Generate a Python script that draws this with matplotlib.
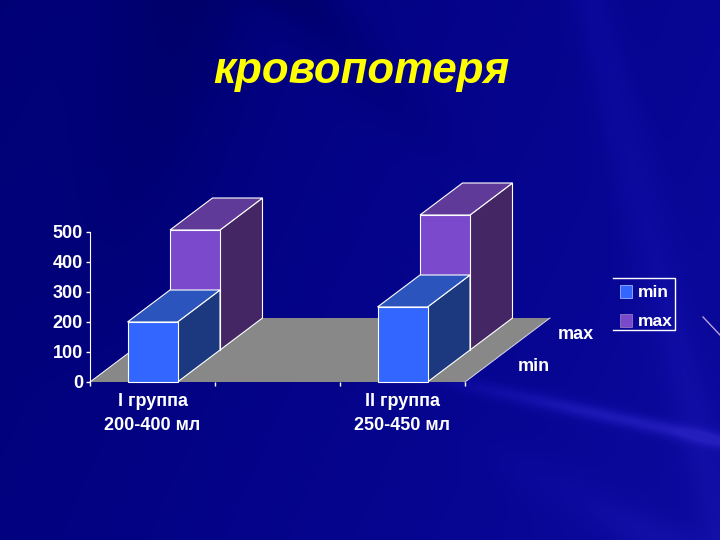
import numpy as np
import matplotlib.pyplot as plt
from matplotlib.patches import Polygon, Patch
from matplotlib.lines import Line2D

plt.rcParams['font.family'] = ['Liberation Sans', 'DejaVu Sans']

categories = ['I группа\n200-400 мл', '', 'II группа\n250-450 мл']
series_names = ['min', 'max']
min_values = [200, 0, 250]
max_values = [400, 0, 450]
y_ticks = [0, 100, 200, 300, 400, 500]

W, H = 720, 540
BAR_W = 0.4
# one depth row in data units (42.5 px across, 32 px up)
DX = 42.5 / 125
DY = 32 / 0.3

MIN_COLS = {'front': '#3366ff', 'top': '#2b55bd', 'side': '#1c397f'}
MAX_COLS = {'front': '#7b49cc', 'top': '#5f3a98', 'side': '#452664'}
FLOOR = '#888888'

fig = plt.figure(figsize=(W / 100, H / 100), dpi=100)

# slide background: navy with a few soft lighter / darker streaks
yy, xx = np.mgrid[0:H, 0:W]
def band(a, b, c, width):
    d = (a * xx + b * yy + c) / np.hypot(a, b)
    return np.exp(-(d / width) ** 2)

glow = 0.30 + 0.30 * xx / W + 0.10 * yy / H
glow += 0.30 * band(0.22, -1, 282, 8) * np.clip((xx - 380) / 200, 0, 1)
glow += 0.12 * band(0.5, -1, 210, 22) * np.clip((xx - 450) / 200, 0, 1)
glow += 0.10 * band(1, -0.25, -590, 22)
glow -= 0.18 * band(1, -0.9, -300, 30) * np.clip(1 - yy / 170, 0, 1)
glow -= 0.18 * band(1, 0.25, -190, 70) * np.clip(1 - yy / 400, 0, 1)
glow = np.clip(glow, 0, 1)
bg = np.dstack([0.14 * glow ** 3, 0.12 * glow ** 3, 0.34 + 0.40 * glow])
bg_ax = fig.add_axes([0, 0, 1, 1])
bg_ax.imshow(bg, aspect='auto', extent=(0, W, H, 0))
bg_ax.axis('off')

ax = fig.add_axes([90 / W, 1 - 382 / H, 375 / W, 150 / H])
ax.patch.set_alpha(0)
ax.set_xlim(0, 3)
ax.set_ylim(0, 500)


def draw_box(row, center, value, cols):
    x0 = center - BAR_W / 2 + row * DX
    x1 = center + BAR_W / 2 + row * DX
    y0 = row * DY
    y1 = y0 + value
    faces = [
        ('side', [(x1, y0), (x1 + DX, y0 + DY), (x1 + DX, y1 + DY), (x1, y1)]),
        ('top', [(x0, y1), (x1, y1), (x1 + DX, y1 + DY), (x0 + DX, y1 + DY)]),
        ('front', [(x0, y0), (x1, y0), (x1, y1), (x0, y1)]),
    ]
    for name, pts in faces:
        ax.add_patch(Polygon(pts, closed=True, facecolor=cols[name], edgecolor='white',
                             linewidth=0.8, clip_on=False, zorder=3 - row))


# floor
ax.add_patch(Polygon([(0, 0), (3, 0), (3 + 2 * DX, 2 * DY), (2 * DX, 2 * DY)], closed=True,
                     facecolor=FLOOR, edgecolor='none', clip_on=False, zorder=1))
ax.plot([0, 2 * DX], [0, 2 * DY], color='white', lw=0.7, clip_on=False, zorder=1.5)
ax.plot([3, 3 + 2 * DX], [0, 2 * DY], color='#d8d8e8', lw=0.7, clip_on=False, zorder=1.5)

centers = np.arange(len(categories)) + 0.5
for c, v_min, v_max in zip(centers, min_values, max_values):
    if v_max > 0:
        draw_box(1, c, v_max, MAX_COLS)
    if v_min > 0:
        draw_box(0, c, v_min, MIN_COLS)

for s in ['top', 'right']:
    ax.spines[s].set_visible(False)
ax.spines['left'].set_color('white')
ax.spines['bottom'].set_visible(False)

ax.set_yticks(y_ticks)
ax.tick_params(axis='y', colors='white', labelsize=13, length=3, width=1, pad=2)
ax.set_xticks(range(len(categories) + 1))
ax.set_xticklabels([])
ax.set_xticks(centers, minor=True)
ax.set_xticklabels(categories, minor=True, fontweight='bold', linespacing=1.55)
ax.tick_params(axis='x', which='major', colors='white', length=3, width=1)
ax.tick_params(axis='x', which='minor', colors='white', labelsize=13, length=0, pad=8)
for lab in ax.get_yticklabels():
    lab.set_fontweight('bold')

# depth axis labels
for row, name in enumerate(series_names):
    ax.text(3 + (row + 0.5) * DX + 0.38, (row + 0.5) * DY - 3, name, color='white', fontsize=13,
            fontweight='bold', ha='center', va='center', clip_on=False)

# legend, frame only on three sides like the slide
handles = [Patch(facecolor=MIN_COLS['front'], edgecolor='#9fb4ff', lw=0.6, label=series_names[0]),
           Patch(facecolor=MAX_COLS['front'], edgecolor='#8f78c0', lw=0.6, label=series_names[1])]
leg = fig.legend(handles=handles, loc='center left', bbox_to_anchor=(615 / W, 1 - 307 / H),
                 frameon=False, fontsize=12.5, labelcolor='white', handlelength=0.68, handleheight=0.8,
                 handletextpad=0.35, labelspacing=0.75, borderpad=0.3, borderaxespad=0)
for t in leg.get_texts():
    t.set_fontweight('bold')
fx = [613 / W, 675 / W, 675 / W, 613 / W]
fy = [1 - 278 / H, 1 - 278 / H, 1 - 330 / H, 1 - 330 / H]
fig.add_artist(Line2D(fx, fy, color='white', lw=1))

# stray pink line from the slide template at the right edge
fig.add_artist(Line2D([703 / W, 720 / W], [1 - 317 / H, 1 - 335 / H], color='#b9a0d8', lw=1))

fig.text(361 / W, 1 - 71 / H, 'кровопотеря', color='#ffff00', fontsize=31.5, fontweight='bold',
         fontstyle='italic', ha='center', va='center')

fig.savefig('out.png', dpi=100)
